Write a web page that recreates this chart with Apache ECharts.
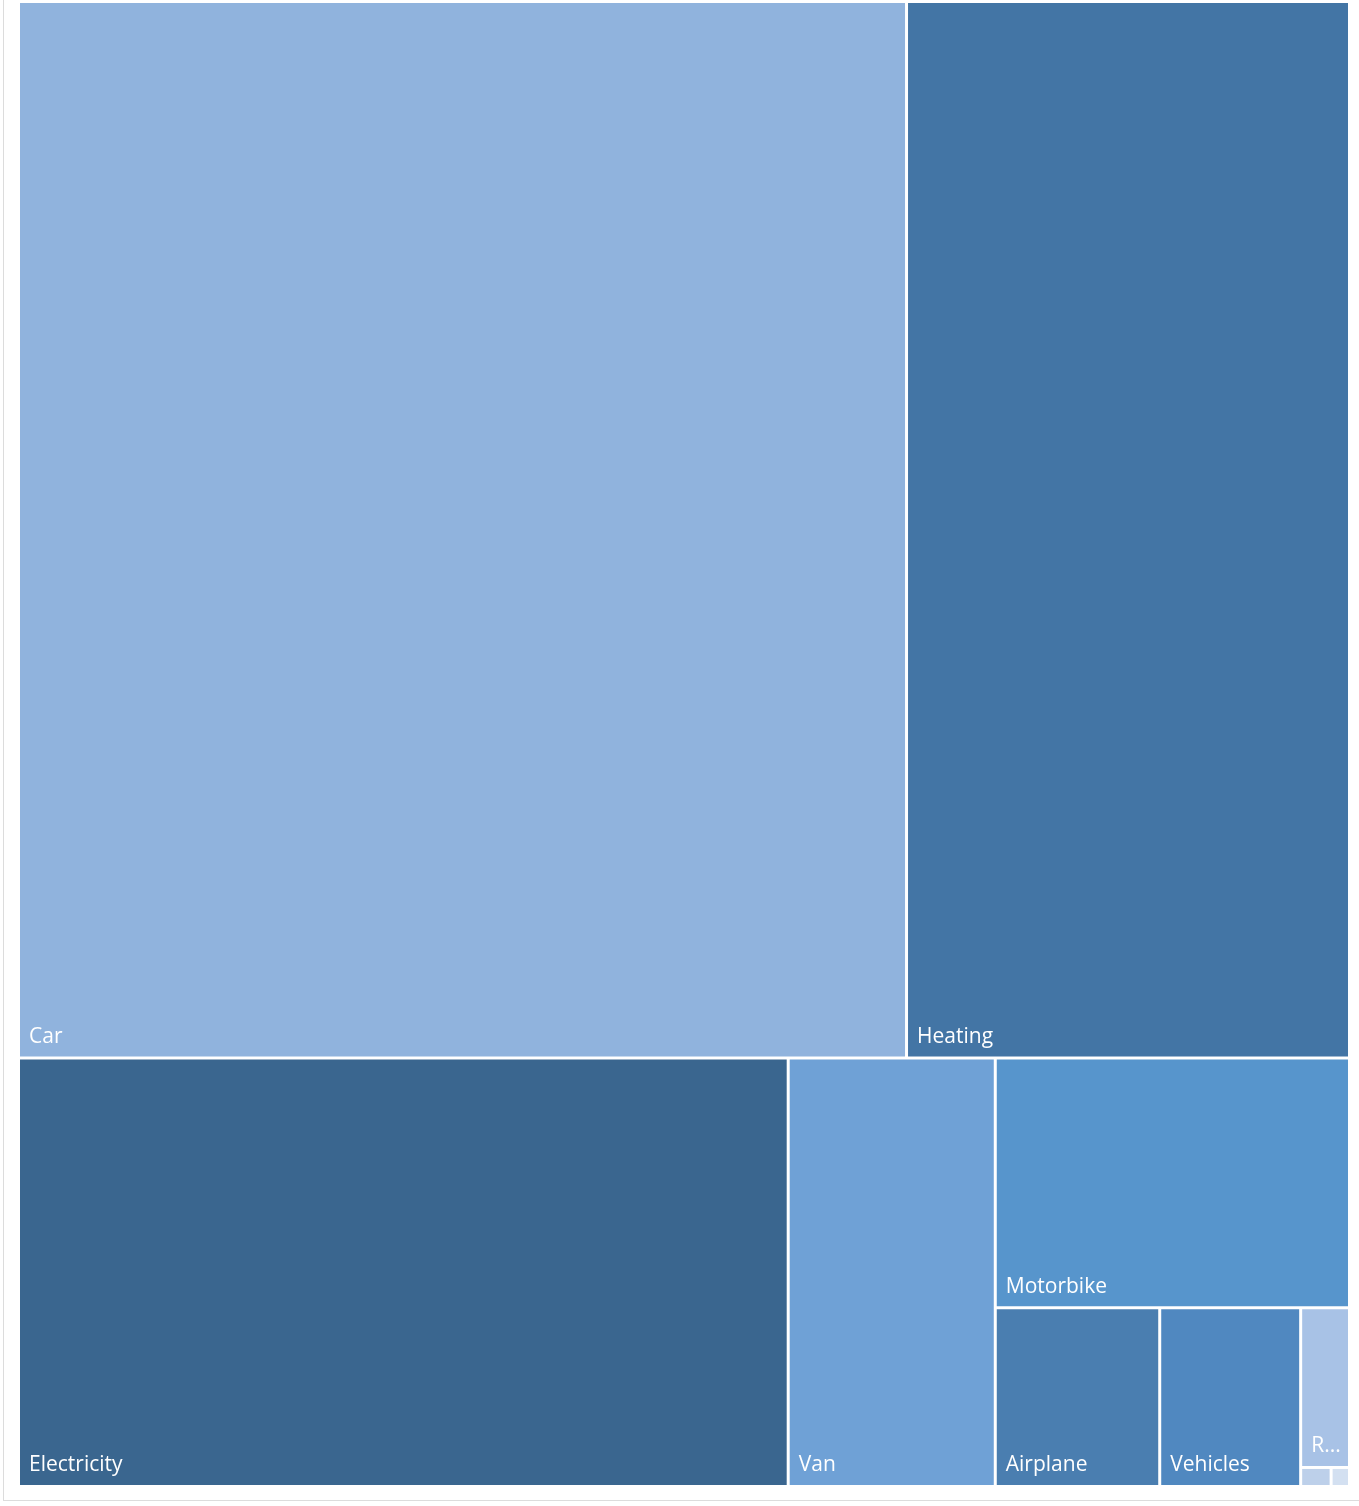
<!DOCTYPE html>
<html>
<head>
<meta charset="utf-8">
<title>Treemap</title>
<script src="https://cdn.jsdelivr.net/npm/echarts@6/dist/echarts.min.js"></script>
<style>
  html, body { margin: 0; padding: 0; background: #fff; }
  .frame {
    position: absolute; left: 3px; top: 0; width: 1400px; height: 1500px;
    border-left: 1px solid #dcdcdc; border-bottom: 1px solid #dcdcdc;
  }
  #main { position: absolute; left: 0; top: 0; width: 1359px; height: 1506px; }
</style>
</head>
<body>
<div class="frame"></div>
<div id="main"></div>
<script>
// categories and their values
const categories = ['Car', 'Heating', 'Electricity', 'Van', 'Motorbike', 'Airplane', 'Vehicles', 'Railway', 'Bus', 'Ferry'];
const values = [9382, 4680, 3297, 887, 884, 294, 252, 78, 5.8, 3.5];

// cell colours, same order as categories
const colors = ['#90b3dd', '#4375a5', '#3a668f', '#6fa1d6', '#5795cc', '#4a7eb0', '#5088c0', '#a8c2e6', '#bdd0ea', '#d3e0f1'];

// the smaller categories are laid out inside one invisible group so the
// squarify layout splits the bottom-right corner the same way as the original
const nestFrom = 4;

const leaf = (i) => ({
  name: categories[i],
  value: values[i],
  itemStyle: { color: colors[i], borderColor: '#fff', borderWidth: 1.5 }
});

const mainCells = categories.slice(0, nestFrom).map((_, i) => leaf(i));
const restCells = categories.slice(nestFrom).map((_, i) => leaf(i + nestFrom));

const treeData = mainCells.concat([{
  name: '',
  children: restCells,
  itemStyle: { borderWidth: 0, gapWidth: 0, borderColor: '#fff' },
  label: { show: false }
}]);

const chart = echarts.init(document.getElementById('main'));

const option = {
  animation: false,
  tooltip: { show: false },
  series: [
    {
      type: 'treemap',
      left: 18.5,
      top: 1.5,
      width: 1331,
      height: 1485,
      roam: false,
      nodeClick: false,
      sort: false,
      squareRatio: 1.2,
      breadcrumb: { show: false },
      itemStyle: { borderWidth: 0, gapWidth: 0, borderColor: '#fff' },
      upperLabel: { show: false },
      label: {
        show: true,
        position: 'insideBottomLeft',
        // small padding + offset keeps room for the "..." in narrow cells
        padding: [0, 0, 9, 4],
        offset: [5, 0],
        color: '#fff',
        fontSize: 21,
        fontFamily: '"Segoe UI", "Open Sans", sans-serif',
        formatter: '{b}'
      },
      data: treeData
    }
  ]
};

chart.setOption(option);
</script>
</body>
</html>
